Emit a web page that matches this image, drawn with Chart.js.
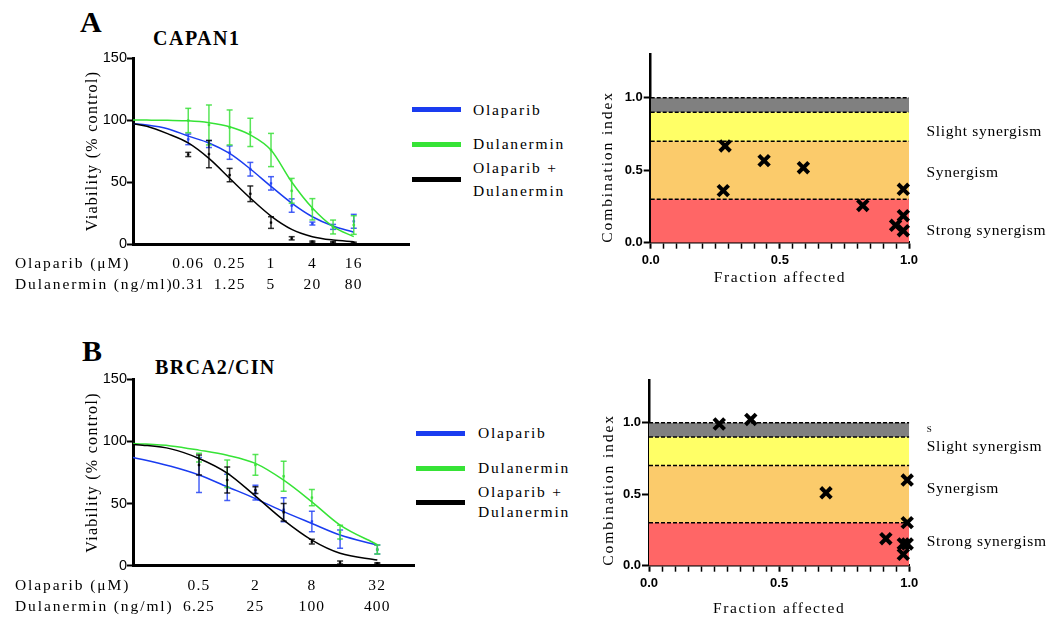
<!DOCTYPE html>
<html><head><meta charset="utf-8">
<script src="https://cdn.jsdelivr.net/npm/chart.js@4.4.1/dist/chart.umd.min.js"></script>
<style>
html,body{margin:0;padding:0;background:#fff;width:1054px;height:619px;overflow:hidden;}
body{position:relative;font-family:"Liberation Serif",serif;color:#000;}
.box{position:absolute;}
.t{position:absolute;white-space:nowrap;line-height:1;color:#000;}
.lg{font-size:15.5px;letter-spacing:1.8px;}
.sw{position:absolute;height:5px;width:49px;}
.ttl{font-weight:bold;font-size:20px;}
.pl{font-weight:bold;font-size:30px;}
</style></head><body>
<div class="t pl" style="left:80px;top:7px;">A</div>
<div class="t ttl" style="left:153px;top:28px;letter-spacing:1.5px;">CAPAN1</div>
<div class="t pl" style="left:82px;top:336px;">B</div>
<div class="t ttl" style="left:155px;top:357px;letter-spacing:1.3px;">BRCA2/CIN</div>

<div class="sw" style="left:412px;top:107px;background:#1a3cf0"></div>
<div class="sw" style="left:412px;top:142px;background:#36e336"></div>
<div class="sw" style="left:412px;top:177px;background:#000"></div>
<div class="t lg" style="left:473px;top:102px;">Olaparib</div>
<div class="t lg" style="left:473px;top:136px;">Dulanermin</div>
<div class="t lg" style="left:473px;top:160px;">Olaparib +</div>
<div class="t lg" style="left:473px;top:183px;">Dulanermin</div>

<div class="sw" style="left:416px;top:431px;background:#1a3cf0"></div>
<div class="sw" style="left:416px;top:466px;background:#36e336"></div>
<div class="sw" style="left:416px;top:500px;background:#000"></div>
<div class="t lg" style="left:478px;top:425px;">Olaparib</div>
<div class="t lg" style="left:478px;top:460px;">Dulanermin</div>
<div class="t lg" style="left:478px;top:484px;">Olaparib +</div>
<div class="t lg" style="left:478px;top:504px;">Dulanermin</div>

<div class="box" style="left:0;top:0;"><canvas id="doseA" width="430" height="300"></canvas></div>
<div class="box" style="left:0;top:318px;"><canvas id="doseB" width="440" height="301"></canvas></div>
<div class="box" style="left:590px;top:40px;"><canvas id="ciAc" width="464" height="260"></canvas></div>
<div class="box" style="left:590px;top:330px;"><canvas id="ciBc" width="464" height="289"></canvas></div>

<script>
// ---------- Panel A (CAPAN1): dose position in log2 dilution steps (0 = 1 µM Olaparib / 5 ng/ml Dulanermin)
const stepA = [-4,-3,-2,-1,0,1,2,3,4];
const olaMeanA = [84.4,80.6,73.7,60.3,48.9,31,16.5,13.8,18.3];
const olaErrA  = [4.3,2.8,5.4,5.5,5.4,5.4,1.2,2,5.6];
const dulMeanA = [99.6,96,94,90,75.8,42.9,28,13.7,15.3];
const dulErrA  = [9.8,16.1,14.1,11.4,13.4,10,8.6,5.6,7.5];
const comMeanA = [72.2,72.5,55.6,40.5,17.3,4.6,1.9,1.3,1];
const comErrA  = [1.7,11,5.4,6.3,4.7,1.3,0.5,0.5,0.5];
const fitStepA = [-6.67,-6,-5,-4,-3,-2,-1,0,1,2,3,4];
const olaFitA  = [97,96,93,87,81.5,73,60.5,46.5,33,22,14.5,9.5];
const dulFitA  = [100,99.9,99.7,99.3,97.8,94.6,88,75.8,50,29,14,6];
const comFitA  = [97,95,89,81.5,69,53,37,22.5,11.8,5.9,3.2,1.9];
const tickStepA = [-4,-2,0,2,4];
const olaTicksA = ["0.06","0.25","1","4","16"];
const dulTicksA = ["0.31","1.25","5","20","80"];

// ---------- Panel B (BRCA2/CIN)
const stepB = [-1,0,1,2,3,4,5.32];
const olaMeanB = [73,63,58.8,45,35.6,21.4,13];
const olaErrB  = [14,10.5,6,9.6,8.3,7.4,3.6];
const dulMeanB = [87,74,81.1,72,54.8,27,13];
const dulErrB  = [3.5,11,8.3,12,6.6,5.5,3.6];
const comMeanB = [81,69,60.8,43,19.3,2.6,1.9];
const comErrB  = [8,10.5,2.7,7,1.9,1.2,0.5];
const fitStepB = [-3.34,-3,-2,-1,0,1,2,3,4,5.32];
const olaFitB  = [87,85.5,80,73,63.5,54,43.5,34,24.7,16.6];
const dulFitB  = [98.3,98,96.4,93,88.9,82.3,68.8,51.4,32.7,17];
const comFitB  = [97.5,97,94,86.3,74.5,56,36.7,20.6,10,4.5];
const tickStepB = [-1,1,3,5.32];
const olaTicksB = ["0.5","2","8","32"];
const dulTicksB = ["6.25","25","100","400"];

// ---------- Combination index (Chou-Talalay)
const faA = [0.288,0.281,0.439,0.591,0.821,0.978,0.978,0.948,0.978];
const ciA = [0.667,0.359,0.566,0.517,0.257,0.368,0.186,0.12,0.083];
const faB = [0.270,0.391,0.680,0.992,0.992,0.910,0.977,0.992,0.977];
const ciB = [0.991,1.023,0.510,0.599,0.301,0.189,0.152,0.152,0.079];
const bandLimits = [0.3,0.7,0.9,1.0];
const bandColors = ['#ff6666','#fbcb6b','#ffff66','#808080'];
const bandLabels = ['Strong synergism','Synergism','Slight synergism'];
const rowLabels = ['Olaparib (\u03bcM)','Dulanermin (ng/ml)'];

const BLUE='#1a3cf0', GREEN='#36e336', BLACK='#000000';
const SERIF='"Liberation Serif", serif', SANS='"Liberation Sans", Arial, sans-serif';

function spaced(scale, titleSp, tickSp){
  if (scale.$sp) return; scale.$sp = true;
  const ctx = scale.ctx;
  const dt = scale.drawTitle.bind(scale), dl = scale.drawLabels.bind(scale);
  scale.drawTitle = function(){ ctx.save(); ctx.letterSpacing = titleSp; dt(); ctx.restore(); };
  scale.drawLabels = function(a){ ctx.save(); ctx.letterSpacing = tickSp; dl(a); ctx.restore(); };
}

const rowLabelPlugin = {
  id:'rowLabels',
  afterDraw(chart, args, o){
    if (!o || !o.lines) return;
    const s = chart.scales.x, ctx = chart.ctx;
    const f = s.options.ticks.font;
    const lh = f.size * f.lineHeight;
    ctx.save();
    ctx.font = o.size + 'px ' + SERIF; ctx.letterSpacing = o.spacing;
    ctx.fillStyle = '#000'; ctx.textBaseline = 'middle'; ctx.textAlign = 'left';
    o.lines.forEach((t,i)=> ctx.fillText(t, o.x, s.top + s.options.ticks.padding + lh/2 + i*lh));
    ctx.restore();
  }
};
const bandLabelPlugin = {
  id:'bandLabels',
  afterDraw(chart, args, o){
    if (!o || !o.items) return;
    const ctx = chart.ctx, y = chart.scales.y;
    ctx.save();
    ctx.fillStyle = '#000'; ctx.textAlign = 'left'; ctx.textBaseline = 'middle';
    ctx.letterSpacing = o.spacing;
    o.items.forEach(it => {
      ctx.font = (it.size || o.size) + 'px ' + SERIF;
      ctx.fillText(it.text, chart.chartArea.right + o.offset, y.getPixelForValue(it.value));
    });
    ctx.restore();
  }
};
Chart.register(rowLabelPlugin, bandLabelPlugin);

function seriesSets(steps, means, errs, fitSteps, fit, color, barColor){
  const bars = [];
  steps.forEach((x,i)=>{
    bars.push({x, y: means[i]-errs[i]});
    bars.push({x, y: means[i]+errs[i]});
    bars.push({x, y: null});
  });
  return [
    {data: fitSteps.map((x,i)=>({x, y: fit[i]})), showLine:true, pointRadius:0, borderColor:color,
     borderWidth:1.5, cubicInterpolationMode:'monotone', fill:false},
    {data: bars, showLine:true, spanGaps:false, borderColor:barColor, borderWidth:1.5,
     pointStyle:'line', pointRadius:3, pointBorderColor:barColor, pointBorderWidth:1.5, pointBackgroundColor:barColor},
    {data: steps.map((x,i)=>({x, y: means[i]})), showLine:false, pointStyle:'rect', pointRadius:1.3,
     pointBackgroundColor:color, pointBorderColor:color, pointBorderWidth:0.5}
  ];
}

function doseChart(id, d){
  new Chart(document.getElementById(id), {
    type:'scatter',
    data:{datasets:[
      ...seriesSets(d.step, d.com, d.comErr, d.fitStep, d.comFit, BLACK, 'rgba(0,0,0,0.8)'),
      ...seriesSets(d.step, d.dul, d.dulErr, d.fitStep, d.dulFit, GREEN, 'rgba(60,225,60,0.85)'),
      ...seriesSets(d.step, d.ola, d.olaErr, d.fitStep, d.olaFit, BLUE, 'rgba(40,70,245,0.85)')
    ]},
    options:{
      animation:false, responsive:false, events:[], devicePixelRatio:1,
      layout:{padding:d.pad},
      plugins:{legend:{display:false}, tooltip:{enabled:false},
        rowLabels:{lines:rowLabels, x:15, size:15.5, spacing:'1.9px'}},
      scales:{
        x:{type:'linear', min:d.min, max:d.max,
           afterBuildTicks: s => { s.ticks = d.tickStep.map(v=>({value:v})); },
           afterFit: s => { s.height = 50; spaced(s,'0px','1.2px'); },
           grid:{display:false, drawTicks:false},
           border:{display:true, color:'#000', width:3},
           ticks:{autoSkip:false, maxRotation:0, minRotation:0, padding:9.5, color:'#000',
                  font:{family:SERIF, size:15.5, lineHeight:1.36},
                  callback:(v,i)=>[d.olaTicks[i], d.dulTicks[i]]}},
        y:{min:0, max:150,
           afterFit: s => { s.width = 133; spaced(s,'1.3px','0px'); },
           grid:{drawOnChartArea:false, drawTicks:true, tickLength:6, tickColor:'#000', tickWidth:2},
           border:{color:'#000', width:3},
           ticks:{stepSize:50, padding:0, color:'#000', font:{family:SANS, size:14.5}},
           title:{display:true, text:'Viability (% control)', color:'#000',
                  font:{family:SERIF, size:16}, padding:{top:83, bottom:0}}}
      }
    }
  });
}

doseChart('doseA', {step:stepA, ola:olaMeanA, olaErr:olaErrA, dul:dulMeanA, dulErr:dulErrA, com:comMeanA, comErr:comErrA,
  fitStep:fitStepA, olaFit:olaFitA, dulFit:dulFitA, comFit:comFitA, tickStep:tickStepA, olaTicks:olaTicksA, dulTicks:dulTicksA,
  min:-6.67, max:6.67, pad:{left:0, top:58, right:21, bottom:6}});
doseChart('doseB', {step:stepB, ola:olaMeanB, olaErr:olaErrB, dul:dulMeanB, dulErr:dulErrB, com:comMeanB, comErr:comErrB,
  fitStep:fitStepB, olaFit:olaFitB, dulFit:dulFitB, comFit:comFitB, tickStep:tickStepB, olaTicks:olaTicksB, dulTicks:dulTicksB,
  min:-3.34, max:6.62, pad:{left:0, top:61.3, right:26, bottom:3.3}});

function ciChart(id, fa, ci, c){
  const bands = bandLimits.map((lim,i)=>({
    data:[{x:0,y:lim},{x:1,y:lim}], showLine:true, pointRadius:0, borderColor:'#000', borderWidth:1.5,
    borderDash:[4,2], backgroundColor:bandColors[i], fill: i===0 ? 'origin' : '-1', order:1
  }));
  const pts = {data: fa.map((x,i)=>({x, y:ci[i]})), showLine:false, pointStyle:'crossRot', pointRadius:7.5,
    pointBorderWidth:4, pointBorderColor:'#000', pointBackgroundColor:'#000', clip:false, order:0};
  const isMajor = v => Math.abs(v*2 - Math.round(v*2)) < 1e-6;
  new Chart(document.getElementById(id), {
    type:'scatter',
    data:{datasets:[...bands, pts]},
    options:{
      animation:false, responsive:false, events:[], devicePixelRatio:1,
      layout:{padding:c.pad},
      plugins:{legend:{display:false}, tooltip:{enabled:false},
        bandLabels:{items:c.labels, offset:17.5, size:15.5, spacing:'0.7px'}},
      scales:{
        x:{type:'linear', min:0, max:1,
           afterFit: s => { s.height = c.xh; spaced(s,'1.6px','0px'); },
           grid:{display:true, drawOnChartArea:false, drawTicks:true, tickLength:6, tickColor:'#000',
                 tickWidth: ctx => (ctx.tick && isMajor(ctx.tick.value)) ? 2 : 1.5},
           border:{color:'#000', width:2.5},
           ticks:{stepSize:0.05, maxTicksLimit:30, autoSkip:false, maxRotation:0, padding:3.5, color:'#000',
                  font:{family:SANS, size:13, weight:'bold'},
                  callback: v => isMajor(v) ? v.toFixed(1) : ''},
           title:{display:true, text:'Fraction affected', color:'#000', font:{family:SERIF, size:15.5},
                  padding:{top:0, bottom:0}}},
        y:{min:0, max:1.3,
           afterFit: s => { s.width = c.yw; spaced(s,'1.9px','0px'); },
           grid:{drawOnChartArea:false, drawTicks:true, tickLength:7, tickColor:'#000', tickWidth:2},
           border:{color:'#000', width:2.5},
           ticks:{stepSize:0.5, includeBounds:false, padding:1, color:'#000',
                  font:{family:SANS, size:13, weight:'bold'}, callback: v => v.toFixed(1)},
           title:{display:true, text:'Combination index', color:'#000', align:'start',
                  font:{family:SERIF, size:15.5}, padding:{top:c.ytp, bottom:0}}}
      }
    }
  });
}

ciChart('ciAc', faA, ciA, {pad:{left:0, top:14.2, right:145, bottom:13}, xh:44.3, yw:60.7, ytp:9,
  labels:[{text:bandLabels[2], value:0.763},{text:bandLabels[1], value:0.479},{text:bandLabels[0], value:0.082}]});
ciChart('ciBc', faB, ciB, {pad:{left:0, top:49.8, right:144.7, bottom:1}, xh:52.3, yw:59, ytp:10,
  labels:[{text:'S', value:0.949, size:9},{text:bandLabels[2], value:0.83},{text:bandLabels[1], value:0.535},{text:bandLabels[0], value:0.164}]});
</script>
</body></html>
